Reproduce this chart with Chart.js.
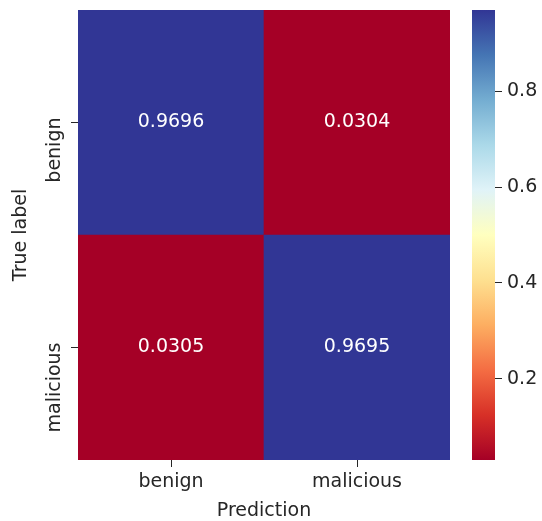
<!DOCTYPE html>
<html>
<head>
<meta charset="utf-8">
<script src="https://cdn.jsdelivr.net/npm/chart.js@4.4.0/dist/chart.umd.min.js"></script>
<style>
  body { margin: 0; background: #fff; }
  #wrap { position: relative; width: 542px; height: 521px; }
  canvas { position: absolute; top: 0; }
</style>
</head>
<body>
<div id="wrap">
  <canvas id="heat" width="460" height="521" style="left:0;width:460px;height:521px"></canvas>
  <canvas id="cbar" width="82" height="521" style="left:460px;width:82px;height:521px"></canvas>
</div>
<script>
// donnees de la matrice de confusion (normalisee par ligne)
const predLabels = ['benign', 'malicious'];
const trueLabels = ['benign', 'malicious'];
const rowBenign = [0.9696, 0.0304];
const rowMalicious = [0.0305, 0.9695];
const cbarTicks = [0.2, 0.4, 0.6, 0.8];

const allValues = rowBenign.concat(rowMalicious);
const vmin = Math.min(...allValues);
const vmax = Math.max(...allValues);

// palette RdYlBu (matplotlib)
const rdylbu = ['#a50026', '#d73027', '#f46d43', '#fdae61', '#fee090', '#ffffbf',
                '#e0f3f8', '#abd9e9', '#74add1', '#4575b4', '#313695'];

function hexToRgb(h) {
  return [parseInt(h.slice(1, 3), 16), parseInt(h.slice(3, 5), 16), parseInt(h.slice(5, 7), 16)];
}

function colorFor(v) {
  let t = (v - vmin) / (vmax - vmin);
  t = Math.max(0, Math.min(1, t));
  const pos = t * (rdylbu.length - 1);
  const i = Math.min(Math.floor(pos), rdylbu.length - 2);
  const f = pos - i;
  const a = hexToRgb(rdylbu[i]), b = hexToRgb(rdylbu[i + 1]);
  const c = a.map((x, k) => Math.round(x + (b[k] - x) * f));
  return 'rgb(' + c.join(',') + ')';
}

const textColor = '#262626';
const fontFamily = '"DejaVu Sans", sans-serif';
const fontSize = 19;

// ecrit les valeurs dans les cellules + les etiquettes verticales de l'axe y
const annotPlugin = {
  id: 'annot',
  afterDraw(chart) {
    const ctx = chart.ctx;
    ctx.save();
    ctx.font = fontSize + 'px ' + fontFamily;
    ctx.fillStyle = '#ffffff';
    ctx.textAlign = 'center';
    ctx.textBaseline = 'middle';
    chart.data.datasets.forEach((ds, di) => {
      const meta = chart.getDatasetMeta(di);
      meta.data.forEach((bar, i) => {
        ctx.fillText(ds.values[i].toFixed(4), bar.x, (bar.y + bar.base) / 2);
      });
    });
    const ys = chart.scales.y;
    ctx.fillStyle = textColor;
    ctx.textBaseline = 'alphabetic';
    ctx.textAlign = 'right';
    [[1.5, trueLabels[0]], [0.5, trueLabels[1]]].forEach(([v, lab]) => {
      ctx.save();
      ctx.translate(60, ys.getPixelForValue(v) - 5);
      ctx.rotate(-Math.PI / 2);
      ctx.fillText(lab, 0, 0);
      ctx.restore();
    });
    ctx.restore();
  }
};

new Chart(document.getElementById('heat'), {
  type: 'bar',
  data: {
    labels: predLabels,
    datasets: [
      {
        label: trueLabels[1],
        data: rowMalicious.map(() => 1),
        values: rowMalicious,
        backgroundColor: rowMalicious.map(colorFor),
        barPercentage: 1,
        categoryPercentage: 1
      },
      {
        label: trueLabels[0],
        data: rowBenign.map(() => 1),
        values: rowBenign,
        backgroundColor: rowBenign.map(colorFor),
        barPercentage: 1,
        categoryPercentage: 1
      }
    ]
  },
  options: {
    responsive: false,
    animation: false,
    layout: { padding: { left: 0, right: 10, top: 10, bottom: 0 } },
    plugins: { legend: { display: false }, tooltip: { enabled: false } },
    scales: {
      x: {
        stacked: true,
        grid: { display: true, drawOnChartArea: false, drawTicks: true, tickLength: 7, offset: false, color: textColor },
        border: { display: false },
        ticks: { color: textColor, font: { family: fontFamily, size: fontSize }, padding: 4 },
        title: { display: true, text: 'Prediction', color: textColor, font: { family: fontFamily, size: fontSize, lineHeight: 1 }, padding: { top: 0, bottom: 0 } },
        afterFit: s => { s.height = 61; }
      },
      y: {
        stacked: true,
        min: 0,
        max: 2,
        afterBuildTicks: s => { s.ticks = [{ value: 0.5 }, { value: 1.5 }]; },
        grid: { display: true, drawOnChartArea: false, drawTicks: true, tickLength: 7, color: textColor },
        border: { display: false },
        ticks: { display: false },
        title: { display: true, text: 'True label', color: textColor, font: { family: fontFamily, size: fontSize, lineHeight: 1 }, padding: { top: 12, bottom: 0 } },
        afterFit: s => { s.width = 78; }
      }
    }
  },
  plugins: [annotPlugin]
});

// barre de couleur
new Chart(document.getElementById('cbar'), {
  type: 'bar',
  data: {
    labels: [''],
    datasets: [{
      data: [[vmin, vmax]],
      backgroundColor: (c) => {
        const area = c.chart.chartArea;
        if (!area) return rdylbu[0];
        const g = c.chart.ctx.createLinearGradient(0, area.bottom, 0, area.top);
        rdylbu.forEach((col, i) => g.addColorStop(i / (rdylbu.length - 1), col));
        return g;
      },
      barPercentage: 1,
      categoryPercentage: 1
    }]
  },
  options: {
    responsive: false,
    animation: false,
    layout: { padding: { left: 12, right: 0, top: 10, bottom: 61 } },
    plugins: { legend: { display: false }, tooltip: { enabled: false } },
    scales: {
      x: { display: false },
      y: {
        position: 'right',
        min: vmin,
        max: vmax,
        afterBuildTicks: s => { s.ticks = cbarTicks.map(v => ({ value: v })); },
        grid: { display: true, drawOnChartArea: false, drawTicks: true, tickLength: 7, color: textColor },
        border: { display: false },
        ticks: { color: textColor, font: { family: fontFamily, size: fontSize }, padding: 5, callback: v => v.toFixed(1) },
        afterFit: s => { s.width = 47; s.paddingTop = 0; s.paddingBottom = 0; }
      }
    }
  }
});
</script>
</body>
</html>
